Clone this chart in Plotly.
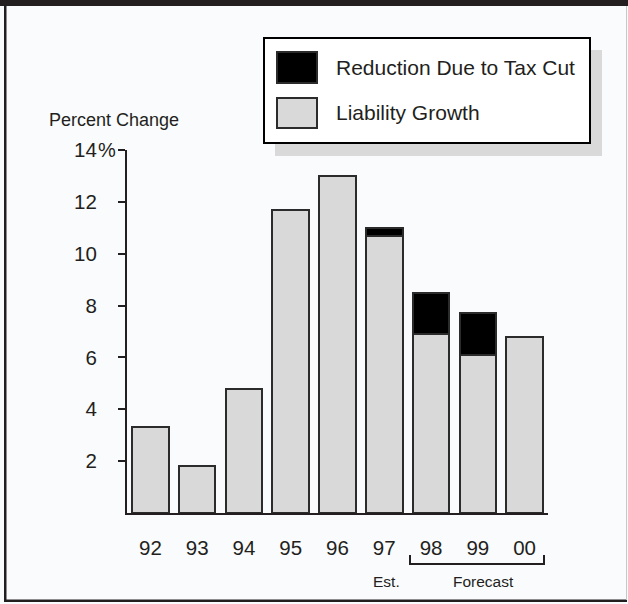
import plotly.graph_objects as go

# Data
years = ["92", "93", "94", "95", "96", "97", "98", "99", "00"]
liability_growth = [3.3, 1.8, 4.8, 11.7, 13.0, 10.7, 6.9, 6.1, 6.8]
tax_cut_reduction = [None, None, None, None, None, 0.3, 1.6, 1.6, None]
y_ticks = [2, 4, 6, 8, 10, 12, 14]
y_ticktext = ["2", "4", "6", "8", "10", "12", "14"]

W, H = 628, 604
ML, MR, MT, MB = 127, 80, 150, 91
PW, PH = W - ML - MR, H - MT - MB

INK = "#231f20"
GRAY = "#d9d9d9"
FONT = "Liberation Sans, Arial, sans-serif"


def px(x):
    return (x - ML) / PW


def py(y):
    return (H - MB - y) / PH


fig = go.Figure()
fig.add_trace(go.Bar(
    x=list(range(len(years))), y=liability_growth, name="Liability Growth",
    marker=dict(color=GRAY, line=dict(color="#2b2b2b", width=2)),
    width=0.78, showlegend=False,
))
fig.add_trace(go.Bar(
    x=list(range(len(years))), y=tax_cut_reduction, name="Reduction Due to Tax Cut",
    marker=dict(color="#000000", line=dict(color="#2b2b2b", width=2)),
    width=0.78, showlegend=False,
))

shapes = []
# Frame: dark top band, left/bottom rules, faint right edge
shapes.append(dict(type="rect", xref="paper", yref="paper", x0=px(0), x1=px(W), y0=py(0), y1=py(6),
                   fillcolor=INK, line=dict(width=0), layer="below"))
shapes.append(dict(type="rect", xref="paper", yref="paper", x0=px(4), x1=px(6.5), y0=py(6), y1=py(602),
                   fillcolor=INK, line=dict(width=0)))
shapes.append(dict(type="rect", xref="paper", yref="paper", x0=px(4), x1=px(627), y0=py(599.5), y1=py(602),
                   fillcolor=INK, line=dict(width=0)))
shapes.append(dict(type="line", xref="paper", yref="paper", x0=px(626.5), x1=px(626.5), y0=py(6), y1=py(600),
                   line=dict(color="#c8c8c8", width=1)))

# Legend box with drop shadow
shapes.append(dict(type="rect", xref="paper", yref="paper", x0=px(275), x1=px(602), y0=py(50), y1=py(156),
                   fillcolor=GRAY, line=dict(width=0)))
shapes.append(dict(type="rect", xref="paper", yref="paper", x0=px(264), x1=px(590), y0=py(38), y1=py(143),
                   fillcolor="#ffffff", line=dict(color="#000000", width=2)))
shapes.append(dict(type="rect", xref="paper", yref="paper", x0=px(277), x1=px(317), y0=py(52), y1=py(83),
                   fillcolor="#000000", line=dict(color="#2b2b2b", width=2)))
shapes.append(dict(type="rect", xref="paper", yref="paper", x0=px(277), x1=px(317), y0=py(98), y1=py(128),
                   fillcolor=GRAY, line=dict(color="#2b2b2b", width=2)))

# Forecast bracket under the last three years
shapes.append(dict(type="path", xref="paper", yref="paper",
                   path=f"M {px(410)} {py(555)} L {px(410)} {py(564)} L {px(544)} {py(564)} L {px(544)} {py(555)}",
                   line=dict(color=INK, width=2)))

annotations = [
    dict(text="Reduction Due to Tax Cut", x=px(334), y=py(67), xref="paper", yref="paper",
         xanchor="left", yanchor="middle", showarrow=False, font=dict(size=21, color=INK, family=FONT)),
    dict(text="Liability Growth", x=px(334), y=py(113), xref="paper", yref="paper",
         xanchor="left", yanchor="middle", showarrow=False, font=dict(size=21, color=INK, family=FONT)),
    dict(text="Percent Change", x=px(47), y=py(120), xref="paper", yref="paper",
         xanchor="left", yanchor="middle", showarrow=False, font=dict(size=18, color=INK, family=FONT)),
    dict(text="%", x=px(96), y=14, xref="paper", yref="y",
         xanchor="left", yanchor="middle", showarrow=False, font=dict(size=20, color=INK, family=FONT)),
    dict(text="Est.", x=px(386), y=py(581), xref="paper", yref="paper",
         xanchor="center", yanchor="middle", showarrow=False, font=dict(size=15.5, color=INK, family=FONT)),
    dict(text="Forecast", x=px(483), y=py(581), xref="paper", yref="paper",
         xanchor="center", yanchor="middle", showarrow=False, font=dict(size=15.5, color=INK, family=FONT)),
]

fig.update_layout(
    width=W, height=H,
    margin=dict(l=ML, r=MR, t=MT, b=MB, pad=0),
    paper_bgcolor="#fafbfd", plot_bgcolor="rgba(0,0,0,0)",
    barmode="stack",
    font=dict(family=FONT, color=INK, size=20),
    shapes=shapes, annotations=annotations,
    xaxis=dict(
        range=[-0.5, len(years) - 0.5], tickmode="array",
        tickvals=list(range(len(years))), ticktext=years,
        showgrid=False, zeroline=False, showline=True, linecolor=INK, linewidth=2,
        ticks="", ticklabelstandoff=15, tickfont=dict(size=20.5, color=INK, family=FONT),
        fixedrange=True,
    ),
    yaxis=dict(
        range=[0, 14], tickmode="array", tickvals=y_ticks, ticktext=y_ticktext,
        showgrid=False, zeroline=False, showline=True, linecolor=INK, linewidth=2,
        ticks="outside", ticklen=7, tickwidth=2, tickcolor=INK,
        ticklabelstandoff=17, tickfont=dict(size=20.5, color=INK, family=FONT),
        fixedrange=True,
    ),
)

fig.write_html("out.html")
